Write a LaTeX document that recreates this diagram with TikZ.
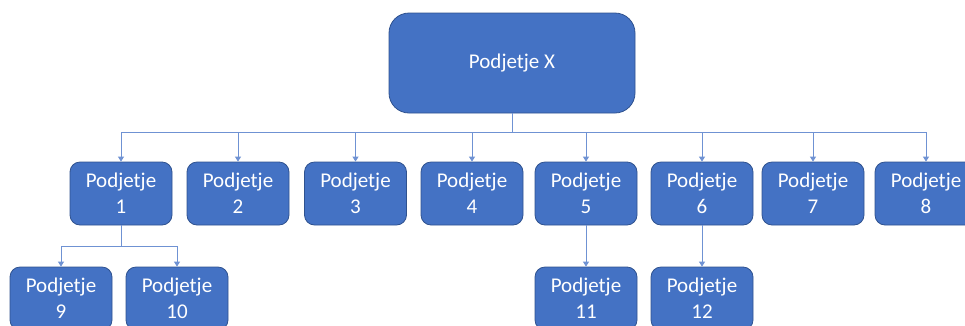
\documentclass[tikz,border=0pt]{standalone}
\usepackage{fontspec}
\setmainfont{Carlito}
\usetikzlibrary{arrows.meta}

\definecolor{boxblue}{HTML}{4472C4}
\definecolor{boxedge}{HTML}{2F528F}
\definecolor{lineblue}{HTML}{6F92D3}

\tikzset{
  unit/.style={draw=boxedge, line width=0.8pt, fill=boxblue, rounded corners=10pt,
    minimum width=102pt, minimum height=63pt, inner sep=0pt,
    text=white, align=center, font=\fontsize{21}{26}\selectfont},
  topunit/.style={unit, minimum width=246pt, minimum height=100pt, rounded corners=20pt},
  link/.style={draw=lineblue, line width=0.9pt, -{Triangle[width=6pt,length=5pt]}}
}

\begin{document}
\begin{tikzpicture}[x=1pt,y=-1pt]
    \useasboundingbox (0,0) rectangle (965,325);
    %root
    \node[topunit] (x) at (512,63) {Podjetje X};

    %first level
    \node[unit] (p1) at (121,193.5) {Podjetje\\1};
    \node[unit] (p2) at (238,193.5) {Podjetje\\2};
    \node[unit] (p3) at (355.5,193.5) {Podjetje\\3};
    \node[unit] (p4) at (472,193.5) {Podjetje\\4};
    \node[unit] (p5) at (586,193.5) {Podjetje\\5};
    \node[unit] (p6) at (702,193.5) {Podjetje\\6};
    \node[unit] (p7) at (813,193.5) {Podjetje\\7};
    \node[unit] (p8) at (926,193.5) {Podjetje\\8};

    %second level
    \node[unit] (p9) at (61,298.5) {Podjetje\\9};
    \node[unit] (p10) at (177,298.5) {Podjetje\\10};
    \node[unit] (p11) at (586,298.5) {Podjetje\\11};
    \node[unit] (p12) at (702,298.5) {Podjetje\\12};

    %connectors
    \foreach \i in {1,...,8}
        \draw[link] (x.south) -- ++(0,19) -| (p\i.north);
    \draw[link] (p1.south) -- ++(0,21) -| (p9.north);
    \draw[link] (p1.south) -- ++(0,21) -| (p10.north);
    \draw[link] (p5) -- (p11);
    \draw[link] (p6) -- (p12);
\end{tikzpicture}
\end{document}
